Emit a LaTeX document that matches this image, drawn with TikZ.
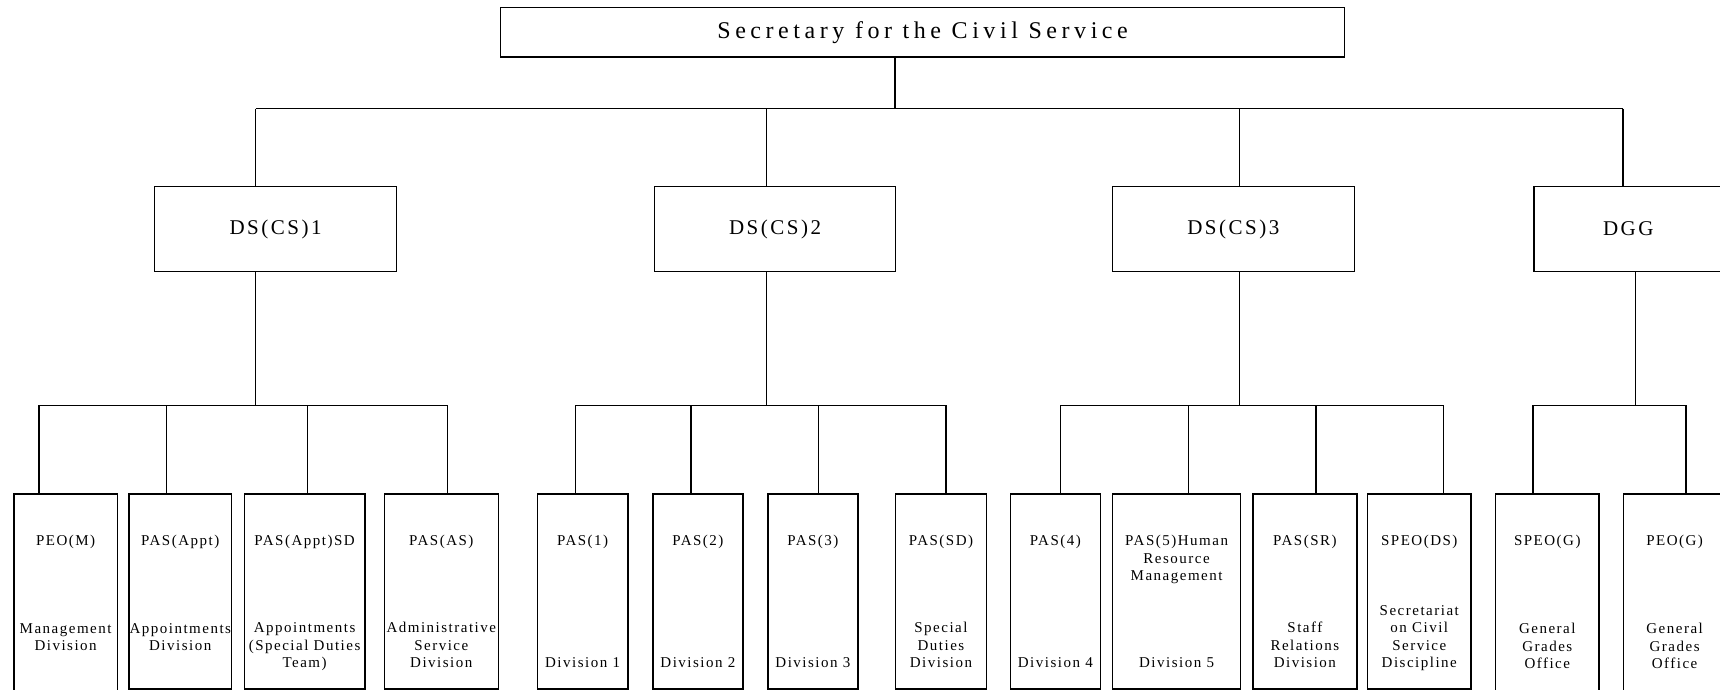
\documentclass[tikz,border=0pt]{standalone}
\usepackage{fontspec}
\setmainfont{Liberation Serif}
\newfontfamily\topfont[LetterSpace=19]{Liberation Serif}
\newfontfamily\midfont[LetterSpace=12]{Liberation Serif}
\newfontfamily\leaffont[LetterSpace=10]{Liberation Serif}

\begin{document}
\begin{tikzpicture}[x=1pt, y=-1pt, line width=1.2pt, line join=miter,
	hop/.style={draw, rectangle, inner sep=0pt, anchor=north west},
	tieude/.style={inner sep=0pt, align=center, font=\leaffont\fontsize{15}{17.4}\selectfont}]
	
	\clip (0,0) rectangle (1720,690);
	
	% Khung trên cùng
	\node[hop, minimum width=844, minimum height=49.8,
	font=\topfont\fontsize{24}{28}\selectfont] (sec) at (500,6.7) {Secretary for the Civil Service};
	
	% Khung tầng hai
	\foreach \name/\x/\w/\txt in {
		ds1/154/242/DS(CS)1, ds2/653.8/241.4/DS(CS)2,
		ds3/1112/241.5/DS(CS)3, dgg/1533.3/188.7/DGG
	}{
		\node[hop, minimum width=\w, minimum height=85.3,
		font=\midfont\fontsize{21}{25}\selectfont] (\name) at (\x,185.7) {\txt};
	}
	
	% Khung tầng ba
	\foreach \name/\x/\w/\h in {
		peom/13.3/103.4/207, pasappt/128.3/102.7/195, pasapptsd/243.7/120.6/195,
		pasas/383.7/114/195, pas1/536.7/90.6/195, pas2/652.3/90/195,
		pas3/767.3/90/195, passd/895/90.7/195, pas4/1009.7/90/195,
		pas5/1112/128/195, passr/1252.3/104/195, speods/1367/103.3/195,
		speog/1495/103.3/207, peog/1622.7/102.6/207
	}{
		\node[hop, minimum width=\w, minimum height=\h] (\name) at (\x,493.3) {};
	}
	
	% Chữ trong khung tầng ba
	\foreach \name/\tren/\duoi/\d in {
		peom/PEO(M)/{Management\\Division}/158,
		pasappt/PAS(Appt)/{Appointments\\Division}/158,
		pasapptsd/PAS(Appt)SD/{Appointments\\(Special Duties\\Team)}/175,
		pasas/PAS(AS)/{Administrative\\Service\\Division}/175,
		pas1/PAS(1)/Division 1/175, pas2/PAS(2)/Division 2/175,
		pas3/PAS(3)/Division 3/175,
		passd/PAS(SD)/{Special\\Duties\\Division}/175,
		pas4/PAS(4)/Division 4/175,
		pas5/{PAS(5)Human\\Resource\\Management}/Division 5/175,
		passr/PAS(SR)/{Staff\\Relations\\Division}/175,
		speods/SPEO(DS)/{Secretariat\\on Civil\\Service\\Discipline}/175,
		speog/SPEO(G)/{General\\Grades\\Office}/176,
		peog/PEO(G)/{General\\Grades\\Office}/176
	}{
		\node[tieude, anchor=north] (\name-t) at ([yshift=-41.3pt]\name.north) {\tren};
		\node[tieude, anchor=south, text depth=0pt] (\name-b) at ([yshift=-\d pt]\name.north) {\duoi};
	}
	
	% Điểm nối
	\foreach \name/\x/\y in {
		s0/895/108.6, d1/255.8/108.6, d2/766.5/108.6, d3/1239.5/108.6, d4/1623/108.6,
		g1/255.8/405.3, g2/766.5/405.3, g3/1239.3/405.3, g4/1635.7/405.3,
		c-peom/39/405.3, c-pasappt/166.7/405.3, c-pasapptsd/307.3/405.3, c-pasas/447.7/405.3,
		c-pas1/575.7/405.3, c-pas2/691/405.3, c-pas3/818.3/405.3, c-passd/946/405.3,
		c-pas4/1060.7/405.3, c-pas5/1188.7/405.3, c-passr/1316/405.3, c-speods/1443.7/405.3,
		c-speog/1533/405.3, c-peog/1686/405.3
	}{
		\coordinate (\name) at (\x,\y);
	}
	
	% Đường nối
	\draw (s0 |- sec.south) -- (s0);
	\draw (d1) -- (d4);
	\foreach \c/\n in {d1/ds1, d2/ds2, d3/ds3, d4/dgg}
	\draw (\c) -- (\c |- \n.north);
	\foreach \c/\n in {g1/ds1, g2/ds2, g3/ds3, g4/dgg}
	\draw (\c |- \n.south) -- (\c);
	\draw (c-peom) -- (c-pasas) (c-pas1) -- (c-passd)
	(c-pas4) -- (c-speods) (c-speog) -- (c-peog);
	\foreach \n in {peom, pasappt, pasapptsd, pasas, pas1, pas2, pas3, passd,
		pas4, pas5, passr, speods, speog, peog}
	\draw (c-\n) -- (c-\n |- \n.north);
\end{tikzpicture}
\end{document}
